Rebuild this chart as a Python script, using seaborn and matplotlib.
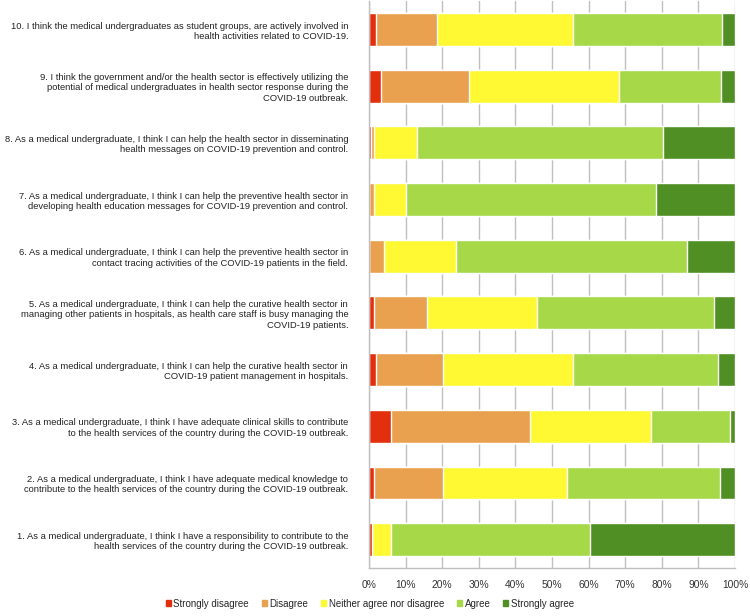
#!/usr/bin/env python3

import pandas as pd
import seaborn as sns
import matplotlib.pyplot as plt
import matplotlib.patches as patches

sns.set_style('white')
plt.rcParams['font.family'] = ['Liberation Sans', 'DejaVu Sans']
plt.rcParams['font.size'] = 6.75

# statements, top (10) to bottom (1)
items = [
    "10. I think the medical undergraduates as student groups, are actively involved in\nhealth activities related to COVID-19.",
    "9. I think the government and/or the health sector is effectively utilizing the\npotential of medical undergraduates in health sector response during the\nCOVID-19 outbreak.",
    "8. As a medical undergraduate, I think I can help the health sector in disseminating\nhealth messages on COVID-19 prevention and control.",
    "7. As a medical undergraduate, I think I can help the preventive health sector in\ndeveloping health education messages for COVID-19 prevention and control.",
    "6. As a medical undergraduate, I think I can help the preventive health sector in\ncontact tracing activities of the COVID-19 patients in the field.",
    "5. As a medical undergraduate, I think I can help the curative health sector in\nmanaging other patients in hospitals, as health care staff is busy managing the\nCOVID-19 patients.",
    "4. As a medical undergraduate, I think I can help the curative health sector in\nCOVID-19 patient management in hospitals.",
    "3. As a medical undergraduate, I think I have adequate clinical skills to contribute\nto the health services of the country during the COVID-19 outbreak.",
    "2. As a medical undergraduate, I think I have adequate medical knowledge to\ncontribute to the health services of the country during the COVID-19 outbreak.",
    "1. As a medical undergraduate, I think I have a responsibility to contribute to the\nhealth services of the country during the COVID-19 outbreak.",
]

# percentages per response, same order as items
strongly_disagree = [2.0, 3.2, 0.6, 0.0, 0.0, 1.3, 1.8, 5.9, 1.3, 0.8]
disagree          = [16.7, 24.1, 0.9, 1.3, 4.0, 14.6, 18.3, 38.0, 18.9, 0.0]
neutral           = [37.1, 40.9, 11.6, 8.8, 19.9, 30.0, 35.7, 33.1, 33.8, 5.3]
agree             = [40.6, 27.9, 67.1, 68.3, 63.1, 48.4, 39.6, 21.5, 41.9, 54.2]
strongly_agree    = [3.6, 3.9, 19.8, 21.6, 13.0, 5.7, 4.6, 1.5, 4.1, 39.7]

responses = ['Strongly disagree', 'Disagree', 'Neither agree nor disagree',
             'Agree', 'Strongly agree']
colors = ['#e2300e', '#e9a14f', '#fff934', '#a6d847', '#4f8f23']

df = pd.DataFrame({
    'item': items,
    'Strongly disagree': strongly_disagree,
    'Disagree': disagree,
    'Neither agree nor disagree': neutral,
    'Agree': agree,
    'Strongly agree': strongly_agree,
})
# cumulative ends, so each layer can be drawn over the next one
cum = df[responses].cumsum(axis=1)

fig = plt.figure(figsize=(7.5, 6.16), dpi=100)
ax = fig.add_axes([0.492, 0.078, 0.488, 0.920])

for resp, col in reversed(list(zip(responses, colors))):
    sns.barplot(x=cum[resp], y=df['item'], color=col, orient='h',
                width=0.58, saturation=1, ax=ax, zorder=2)

ax.set_xlim(0, 100)
ax.set_ylim(9.5, -0.5)
ax.set_xticks(range(0, 101, 10))
ax.set_xticklabels([f'{t}%' for t in range(0, 101, 10)])
ax.grid(axis='x', color='#c0c0c0', linewidth=1, zorder=0)
ax.set_axisbelow(True)
for s in ['top', 'right']:
    ax.spines[s].set_visible(False)
for s in ['left', 'bottom']:
    ax.spines[s].set_color('#c0c0c0')
    ax.spines[s].set_linewidth(1)
ax.tick_params(axis='x', length=4, color='#c0c0c0', pad=5,
               labelcolor='#333333', labelsize=7.4)
ax.tick_params(axis='y', length=0, pad=15, labelcolor='#222222')
for lab in ax.get_yticklabels():
    lab.set_horizontalalignment('right')
    lab.set_multialignment('right')
ax.set_xlabel('')
ax.set_ylabel('')

handles = [patches.Patch(color=c, label=r) for r, c in zip(responses, colors)]
fig.legend(handles=handles, loc='center', bbox_to_anchor=(0.493, 0.02),
           ncol=5, frameon=False, handlelength=0.55, handleheight=0.55,
           handletextpad=0.25, columnspacing=1.3, fontsize=7)

plt.savefig('out.png', dpi=100)
